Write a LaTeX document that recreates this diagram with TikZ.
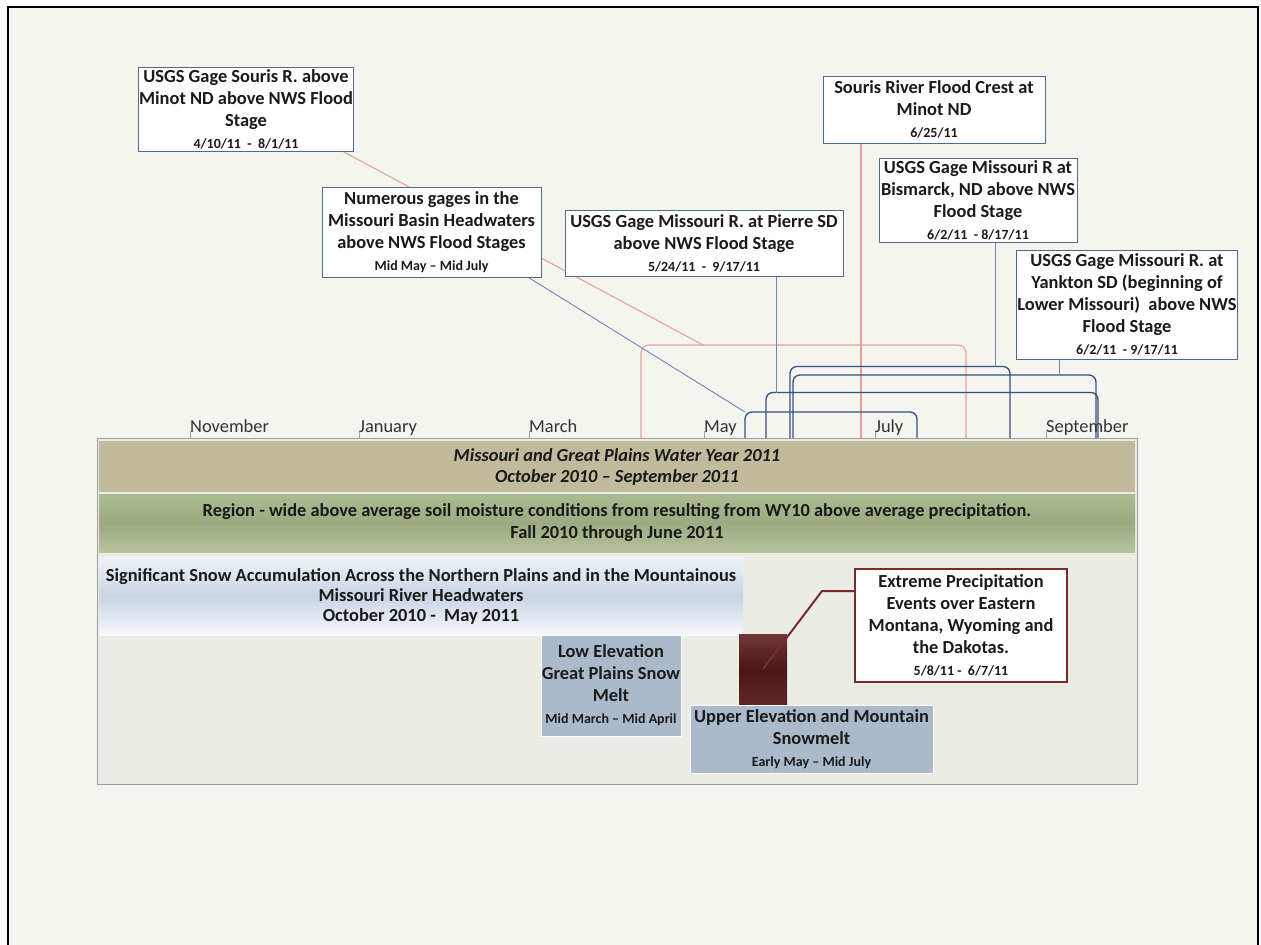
\documentclass[tikz,border=0pt]{standalone}
\usepackage{fontspec}
\setmainfont{Carlito}
\pgfdeclarelayer{bg}
\pgfdeclarelayer{links}
\pgfsetlayers{bg,links,main}

\definecolor{pagecream}{HTML}{F5F5EF}
\definecolor{panelfill}{HTML}{ECECE7}
\definecolor{panelgray}{HTML}{9C9C9C}
\definecolor{wyfill}{HTML}{C1BB9D}
\definecolor{soiltop}{HTML}{ABBB92}
\definecolor{soilmid}{HTML}{9CAA81}
\definecolor{soilbot}{HTML}{B5C49D}
\definecolor{snowtop}{HTML}{EEF2F7}
\definecolor{snowmid}{HTML}{C8D4E4}
\definecolor{snowbot}{HTML}{F6F8FB}
\definecolor{meltfill}{HTML}{ABBACB}
\definecolor{raintop}{HTML}{6E3838}
\definecolor{rainmid}{HTML}{4A1616}
\definecolor{rainbot}{HTML}{5E2828}
\definecolor{rainedge}{HTML}{7A2A2A}
\definecolor{gageedge}{HTML}{4F6A8F}
\definecolor{pinklink}{HTML}{E8A09D}
\definecolor{linkblue}{HTML}{6A86B2}
\definecolor{spannavy}{HTML}{34507E}
\definecolor{tickblue}{HTML}{8CA4C8}
\definecolor{monthgray}{HTML}{333333}
\definecolor{textdark}{HTML}{1A1A1A}

\newcommand\gagedate[1]{{\fontsize{14}{17}\selectfont #1}}

\begin{document}
\begin{tikzpicture}[x=1pt,y=-1pt,font=\bfseries\fontsize{18.4}{22}\selectfont,text=textdark]
    \tikzset{
        gagebox/.style={draw=gageedge,fill=white,line width=0.9pt,align=center,inner sep=1pt},
        band/.style={minimum width=1036,inner sep=0pt,align=center},
        meltbox/.style={draw=white,line width=0.6pt,fill=meltfill,align=center,inner sep=1pt},
        pinkline/.style={draw=pinklink,line width=1.1pt},
        gagelink/.style={draw=linkblue,line width=0.9pt},
        stagespan/.style={draw=spannavy,line width=1.3pt,rounded corners=7pt},
        monthtick/.style={draw=tickblue,line width=0.8pt}
    }

    \useasboundingbox (0,0) rectangle (1261,945);
    \begin{pgfonlayer}{bg}
        \fill[white] (0,0) rectangle (1261,945);
        \fill[pagecream] (8,7) rectangle (1258,945);
        \draw[line width=1.2pt] (8,945) -- (8,7) -- (1258,7) -- (1258,945);
    \end{pgfonlayer}

    \node[draw=panelgray,fill=panelfill,minimum width=1040,minimum height=346,inner sep=0pt] (panel) at (617,611) {};
    \node[band,fill=wyfill,minimum height=51,font=\bfseries\itshape\fontsize{18.4}{21}\selectfont] (wyear) at (617,466.5)
        {Missouri and Great Plains Water Year 2011\\October 2010 – September 2011};
    \node[band,top color=soiltop,bottom color=soilbot,middle color=soilmid,minimum height=58] (soil) at (617,523)
        {Region - wide above average soil moisture conditions from resulting from WY10 above average precipitation.\\Fall 2010 through June 2011};
    \node[top color=snowtop,bottom color=snowbot,middle color=snowmid,minimum width=644,minimum height=78,inner sep=0pt,
        align=center,font=\bfseries\fontsize{18.4}{20}\selectfont] (snowpack) at (421,596)
        {Significant Snow Accumulation Across the Northern Plains and in the Mountainous\\Missouri River Headwaters\\October 2010 - \ May 2011};

    \node[meltbox,minimum width=140,minimum height=101] (lowmelt) at (611,685.5)
        {Low Elevation\\Great Plains Snow\\Melt\\\gagedate{Mid March – Mid April}};
    \node[meltbox,minimum width=243,minimum height=68] (highmelt) at (811.5,739)
        {Upper Elevation and Mountain\\Snowmelt\\\gagedate{Early May – Mid July}};
    \node[top color=raintop,bottom color=rainbot,middle color=rainmid,minimum width=48,minimum height=70,inner sep=0pt] (rainevt) at (763,669) {};
    \node[draw=rainedge,line width=2.5pt,fill=white,align=center,inner sep=1pt,minimum width=212,minimum height=113] (rainnote) at (961,625.5)
        {Extreme Precipitation\\Events over Eastern\\Montana, Wyoming and\\the Dakotas.\\\gagedate{5/8/11 - \ 6/7/11}};
    \draw[rainedge,line width=2pt] ([yshift=34.5]rainnote.west) -- (822,591) -- (rainevt.center);

    \foreach \mx/\mname in {190/November,359/January,529/March,704/May,875/July,1046/September}{
        \draw[monthtick] (\mx,431) -- (\mx,438);
        \node[anchor=base west,inner sep=0pt,font=\mdseries\fontsize{18.4}{20}\selectfont,text=monthgray] (m\mname) at (\mx,432) {\mname};
    }

    \node[gagebox,minimum width=214,minimum height=84] (sourisgage) at (246,109)
        {USGS Gage Souris R. above\\Minot ND above NWS Flood\\Stage\\\gagedate{4/10/11 \ - \ 8/1/11}};
    \node[gagebox,minimum width=219,minimum height=90] (headwaters) at (431.5,232)
        {Numerous gages in the\\Missouri Basin Headwaters\\above NWS Flood Stages\\\gagedate{Mid May – Mid July}};
    \node[gagebox,minimum width=278,minimum height=66] (pierre) at (704,243)
        {USGS Gage Missouri R. at Pierre SD\\above NWS Flood Stage\\\gagedate{5/24/11 \ - \ 9/17/11}};
    \node[gagebox,minimum width=222,minimum height=67] (crest) at (934,109.5)
        {Souris River Flood Crest at\\Minot ND\\\gagedate{6/25/11}};
    \node[gagebox,minimum width=198,minimum height=84] (bismarck) at (978,200)
        {USGS Gage Missouri R at\\Bismarck, ND above NWS\\Flood Stage\\\gagedate{6/2/11 \ - 8/17/11}};
    \node[gagebox,minimum width=220,minimum height=109] (yankton) at (1127,304.5)
        {USGS Gage Missouri R. at\\Yankton SD (beginning of\\Lower Missouri) \ above NWS\\Flood Stage\\\gagedate{6/2/11 \ - 9/17/11}};

    \begin{pgfonlayer}{links}
        \coordinate (pinkjoin) at (703,345);
        \coordinate (crestfoot) at (861,438);
        \coordinate (hwjoin) at (745,412);
        \coordinate (pierrefoot) at (776,392.5);
        \coordinate (bisfoot) at (995,366.5);
        \coordinate (yankfoot) at (1059,375);

        \draw[pinkline,rounded corners=8pt] (641,438) |- (966,345) -- (966,438);
        \draw[pinkline] ([xshift=97]sourisgage.south) -- (pinkjoin);
        \draw[pinkline] (crestfoot |- crest.south) -- (crestfoot);

        \draw[stagespan] (745,438) |- (917,412) -- (917,438);
        \draw[gagelink] ([xshift=-13]headwaters.south east) -- (hwjoin);
        \draw[stagespan] (766,438) |- (1098,392.5) -- (1098,438);
        \draw[gagelink] (pierrefoot |- pierre.south) -- (pierrefoot);
        \draw[stagespan] (790,438) |- (1010,366.5) -- (1010,438);
        \draw[gagelink] (bisfoot |- bismarck.south) -- (bisfoot);
        \draw[stagespan] (793,438) |- (1096,375) -- (1096,438);
        \draw[gagelink] (yankfoot |- yankton.south) -- (yankfoot);
    \end{pgfonlayer}
\end{tikzpicture}
\end{document}
